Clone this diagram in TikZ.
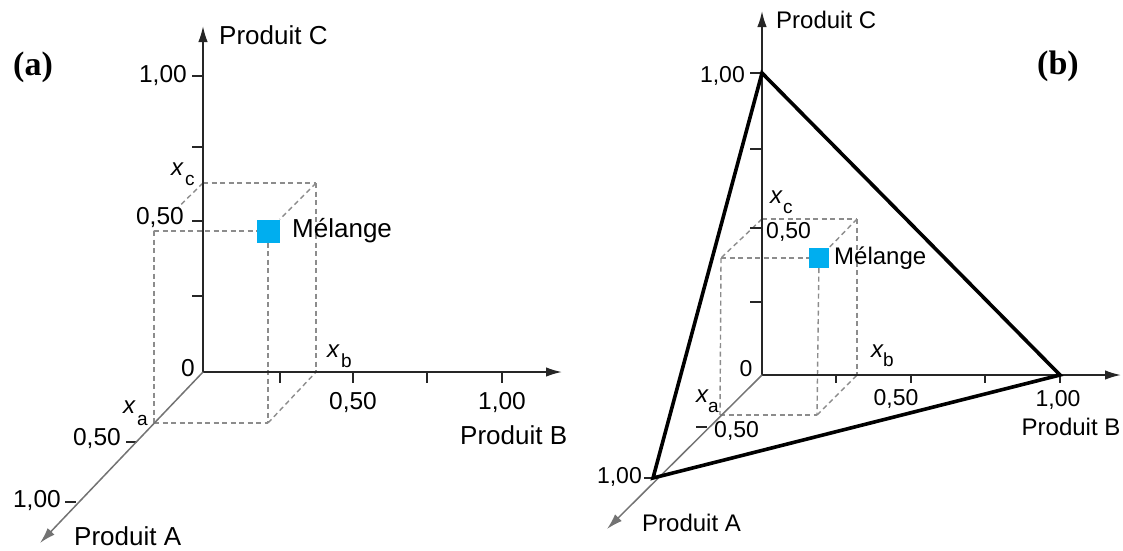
\documentclass[tikz,border=0pt]{standalone}
\usepackage{fontspec}
\setmainfont{Liberation Sans}
\newfontfamily\panelfont{Liberation Serif}
\usetikzlibrary{arrows.meta}
\definecolor{mixblue}{HTML}{00AEEF}
\begin{document}
\begin{tikzpicture}[x=1pt,y=-1pt,
  axis/.style={draw=black!85,line width=1.7pt},
  axisA/.style={draw=black!55,line width=1.5pt},
  arr/.style={-{Latex[length=16pt,width=9.5pt]}},
  tck/.style={draw=black!85,line width=1.4pt},
  dsh/.style={draw=black!45,line width=1.4pt,dash pattern=on 5pt off 3.5pt},
  tri/.style={draw=black,line width=3.6pt},
  mix/.style={fill=mixblue,draw=none,inner sep=0pt,minimum size=#1},
  wA/.style={font=\fontsize{26}{30}\selectfont,inner sep=0pt,text=black},
  nA/.style={font=\fontsize{24.5}{28}\selectfont,inner sep=0pt,text=black},
  wB/.style={font=\fontsize{24}{28}\selectfont,inner sep=0pt,text=black},
  nB/.style={font=\fontsize{23}{26}\selectfont,inner sep=0pt,text=black},
  xv/.style={font=\fontsize{24}{28}\selectfont\itshape,inner sep=0pt,anchor=base west,text=black},
  subv/.style={font=\fontsize{19}{22}\selectfont,inner sep=0pt,anchor=base west,text=black},
  panel/.style={font=\panelfont\bfseries\fontsize{34}{38}\selectfont,inner sep=0pt}
]
\useasboundingbox (0,0) rectangle (1123,550);

% ================= panel (a) =================
\coordinate (Oa) at (203,372);
\coordinate (CTa) at (203,26);
\coordinate (BTa) at (562,372);
\coordinate (ATa) at (40,543);
% box points
\coordinate (pa) at (154,423);
\coordinate (pb) at (316,372);
\coordinate (pc) at (203,183);
\coordinate (pbc) at (316,183);
\coordinate (pac) at (154,231);
\coordinate (pab) at (268,423);
\node[mix=23pt] (Ma) at (268,231) {};

% dashed diagonal partly hidden by label
\draw[dsh] (pc) -- (pac);
\node[nA,anchor=east,fill=white,inner sep=1pt] (c50a) at (185,218) {0,50};
\draw[dsh] (pc) -- (pbc);
\draw[dsh] (pbc) -- (Ma);
\draw[dsh] (pac) -- (Ma);
\draw[dsh] (pac) -- (pa);
\draw[dsh] (Ma) -- (pab);
\draw[dsh] (pbc) -- (pb);
\draw[dsh] (pa) -- (pab);
\draw[dsh] (pab) -- (pb);

% ticks
\foreach \y in {296,221,147,76} \draw[tck] (203,\y) -- (192,\y);
\foreach \x in {280,353,427,502} \draw[tck] (\x,372) -- (\x,383);
\draw[tck] (137,442) -- (126,442);
\draw[tck] (76,502) -- (65,502);

% axes
\draw[axis,arr] (Oa) -- (CTa);
\draw[axis,arr] (Oa) -- (BTa);
\draw[axisA,arr] (Oa) -- (ATa);

% labels
\node[panel] (la) at (33,67) {(a)};
\node[wA,anchor=west] (pCa) at (219,35) {Produit C};
\node[nA,anchor=east] (c100a) at (187,76) {1,00};
\node[nA] (zeroa) at (188,368) {0};
\node[wA,anchor=west] (mela) at (292,231) {Mélange};
\node[xv] (xca) at (171,175) {x};
\node[subv] (xcas) at (185,185) {c};
\node[xv] (xba) at (327,357) {x};
\node[subv] (xbas) at (341,367) {b};
\node[xv] (xaa) at (123,413) {x};
\node[subv] (xaas) at (137,425) {a};
\node[nA] (b50a) at (353,403) {0,50};
\node[nA] (b100a) at (502,403) {1,00};
\node[wA,anchor=west] (pBa) at (460,435) {Produit B};
\node[nA,anchor=east] (a50a) at (121,439) {0,50};
\node[nA,anchor=east] (a100a) at (61,500) {1,00};
\node[wA,anchor=west] (pAa) at (74,536) {Produit A};

% ================= panel (b) =================
\coordinate (Ob) at (762,375);
\coordinate (CTb) at (762,11);
\coordinate (BTb) at (1121,375);
\coordinate (ATb) at (607,529);
\coordinate (C1) at (762,73);
\coordinate (B1) at (1060,375);
\coordinate (A1) at (653,478);
\coordinate (qa) at (720,415);
\coordinate (qb) at (857,375);
\coordinate (qc) at (762,219);
\coordinate (qbc) at (857,219);
\coordinate (qac) at (721,258);
\coordinate (qab) at (817,415);
\node[mix=20pt] (Mb) at (819,258) {};

\draw[dsh] (qc) -- (qac);
\draw[dsh] (qc) -- (qbc);
\draw[dsh] (qbc) -- (Mb);
\draw[dsh] (qac) -- (Mb);
\draw[dsh] (qac) -- (qa);
\draw[dsh] (Mb) -- (qab);
\draw[dsh] (qbc) -- (qb);
\draw[dsh] (qa) -- (qab);
\draw[dsh] (qab) -- (qb);

\foreach \y in {302,228,149,73} \draw[tck] (762,\y) -- (750,\y);
\foreach \x in {836,911,985,1060} \draw[tck] (\x,375) -- (\x,383);
\draw[tck] (707,427) -- (696,427);
\draw[tck] (653,478) -- (644,478);

\draw[axis,arr] (Ob) -- (CTb);
\draw[axis,arr] (Ob) -- (BTb);
\draw[axisA,arr] (Ob) -- (ATb);

\draw[tri] (C1) -- (B1) -- (A1) -- cycle;

\node[panel] (lb) at (1058,66) {(b)};
\node[wB,anchor=west] (pCb) at (776,20) {Produit C};
\node[nB,anchor=east] (c100b) at (745,76) {1,00};
\node[nB,anchor=west] (c50b) at (766,232) {0,50};
\node[wB,anchor=west] (melb) at (834,258) {Mélange};
\node[nB] (zerob) at (746,369) {0};
\node[xv] (xcb) at (770,203) {x};
\node[subv] (xcbs) at (783,213) {c};
\node[xv] (xbb) at (871,357) {x};
\node[subv] (xbbs) at (883,366) {b};
\node[xv] (xab) at (696,402) {x};
\node[subv] (xabs) at (708,412) {a};
\node[nB] (b50b) at (896,399) {0,50};
\node[nB] (b100b) at (1058,400) {1,00};
\node[wB] (pBb) at (1071,427) {Produit B};
\node[nB,anchor=west] (a50b) at (714,431) {0,50};
\node[nB,anchor=east] (a100b) at (642,477) {1,00};
\node[wB,anchor=west] (pAb) at (642,523) {Produit A};
\end{tikzpicture}
\end{document}
